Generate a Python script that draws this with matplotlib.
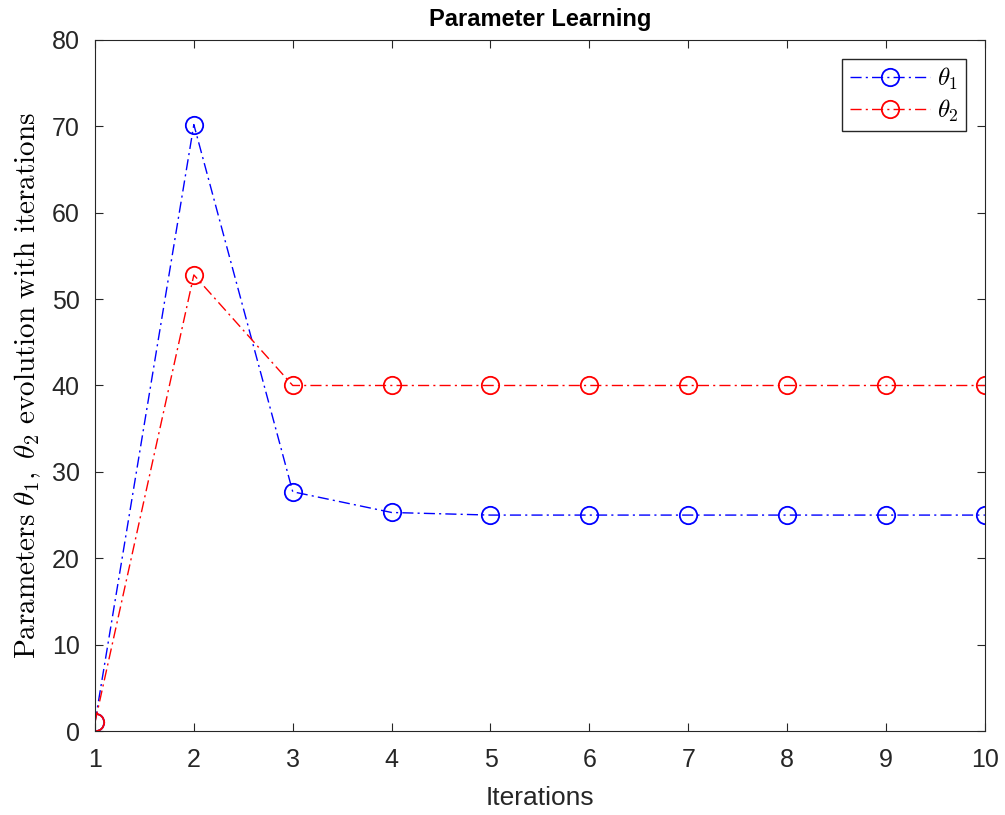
import matplotlib
matplotlib.use('Agg')
from matplotlib import pyplot as plt

plt.rcParams['font.family'] = ['Liberation Sans', 'DejaVu Sans']
plt.rcParams['mathtext.fontset'] = 'cm'

iterations = [1, 2, 3, 4, 5, 6, 7, 8, 9, 10]
theta1 = [1.0, 70.2, 27.7, 25.3, 25.0, 25.0, 25.0, 25.0, 25.0, 25.0]
theta2 = [1.0, 52.8, 40.0, 40.0, 40.0, 40.0, 40.0, 40.0, 40.0, 40.0]

fig = plt.figure(figsize=(10.05, 8.15), dpi=100)
ax = fig.add_axes([0.0945, 0.103, 0.8855, 0.848])

dashdot = (0, (8, 3, 1.5, 3))
ax.plot(iterations, theta1, color='blue', linestyle=dashdot, linewidth=1,
        marker='o', markersize=12.5, markerfacecolor='none', markeredgewidth=1.3,
        label=r'$\theta_1$')
ax.plot(iterations, theta2, color='red', linestyle=dashdot, linewidth=1,
        marker='o', markersize=12.5, markerfacecolor='none', markeredgewidth=1.3,
        label=r'$\theta_2$')

ax.set_xlim(1, 10)
ax.set_ylim(0, 80)
ax.set_xticks(iterations)
ax.set_yticks(range(0, 81, 10))
ax.tick_params(direction='in', top=True, right=True, labelsize=18,
               color='#262626', labelcolor='#262626', length=6)
ax.tick_params(axis='x', pad=12)
ax.tick_params(axis='y', pad=11)
for s in ax.spines.values():
    s.set_color('#262626')

ax.set_title('Parameter Learning', fontsize=17, fontweight='bold', pad=10)
ax.set_xlabel('Iterations', fontsize=19, color='#262626', labelpad=10)
ax.set_ylabel(r'$\mathrm{Parameters}\ \theta_1,\ \theta_2\ \mathrm{evolution\ with\ iterations}$',
              fontsize=21, labelpad=6)

leg = ax.legend(loc='upper right', fontsize=18, fancybox=False, framealpha=1,
                edgecolor='#262626', handlelength=3.2, handletextpad=0.3,
                labelspacing=0.2, borderpad=0.3, borderaxespad=0.75)
leg.get_frame().set_linewidth(1)

fig.savefig('out.png', dpi=100)
